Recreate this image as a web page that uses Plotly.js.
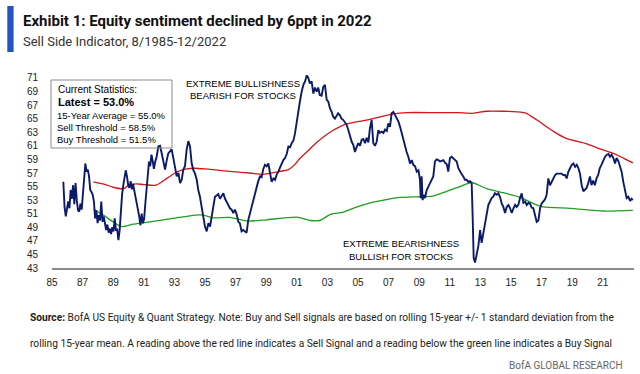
<!DOCTYPE html>
<html>
<head>
<meta charset="utf-8">
<script src="https://cdn.plot.ly/plotly-3.0.1.min.js"></script>
<style>
  html, body { margin: 0; padding: 0; background: #ffffff; }
  #chart { width: 640px; height: 374px; }
</style>
</head>
<body>
<div id="chart"></div>
<script>
// ---- Data ----
const sentimentYears = [
  1985.74,1985.82,1985.90,1985.98,1986.06,1986.14,1986.22,1986.30,1986.38,1986.46,1986.54,1986.62,1986.70,1986.78,1986.86,1986.94,
  1987.02,1987.10,1987.18,1987.26,1987.34,1987.42,1987.50,1987.58,1987.66,1987.74,1987.82,1987.90,1987.98,
  1988.06,1988.14,1988.22,1988.30,1988.38,1988.46,1988.54,1988.62,1988.70,1988.78,1988.86,1988.94,
  1989.02,1989.10,1989.18,1989.26,1989.34,1989.42,1989.50,1989.58,1989.66,1989.74,1989.82,1989.90,1989.98,
  1990.06,1990.14,1990.22,1990.30,1990.38,1990.46,1990.54,1990.62,1990.70,1990.78,1990.86,1990.94,
  1991.02,1991.10,1991.18,1991.26,1991.34,1991.42,1991.50,1991.58,1991.66,1991.74,1991.84,1991.95,
  1992.06,1992.17,1992.28,1992.39,1992.50,1992.60,1992.71,1992.82,1992.93,
  1993.04,1993.15,1993.26,1993.37,1993.48,1993.58,1993.69,1993.80,1993.91,
  1994.02,1994.13,1994.24,1994.35,1994.46,1994.56,1994.67,1994.78,1994.89,
  1995.00,1995.11,1995.22,1995.33,1995.44,1995.54,1995.65,1995.76,1995.87,1995.98,
  1996.09,1996.20,1996.31,1996.42,1996.52,1996.63,1996.74,1996.85,1996.96,
  1997.07,1997.18,1997.28,1997.39,1997.50,1997.61,1997.72,1997.83,1997.94,
  1998.05,1998.16,1998.27,1998.38,1998.48,1998.60,1998.70,1998.81,1998.92,
  1999.03,1999.14,1999.25,1999.36,1999.47,1999.58,1999.69,1999.80,1999.90,
  2000.01,2000.12,2000.23,2000.34,2000.45,2000.56,2000.67,2000.78,2000.88,2000.99,
  2001.10,2001.20,2001.32,2001.43,2001.54,2001.65,2001.75,2001.86,2001.97,
  2002.08,2002.19,2002.30,2002.40,2002.50,2002.62,2002.73,2002.84,2002.95,
  2003.06,2003.17,2003.28,2003.38,2003.49,2003.60,2003.70,2003.82,2003.92,
  2004.04,2004.15,2004.26,2004.37,2004.48,2004.59,2004.70,2004.80,2004.91,
  2005.02,2005.13,2005.24,2005.35,2005.46,2005.57,2005.68,2005.78,2005.89,
  2006.00,2006.11,2006.22,2006.33,2006.44,2006.55,2006.66,2006.77,2006.88,2006.98,
  2007.09,2007.20,2007.31,2007.42,2007.53,2007.64,2007.75,2007.86,2007.97,
  2008.08,2008.18,2008.29,2008.40,2008.51,2008.62,2008.73,2008.84,2008.95,
  2009.05,2009.10,2009.16,2009.22,2009.30,2009.38,2009.49,2009.60,2009.70,2009.81,2009.92,
  2010.03,2010.14,2010.25,2010.36,2010.47,2010.58,2010.69,2010.80,2010.90,
  2011.01,2011.12,2011.23,2011.34,2011.45,2011.56,2011.67,2011.78,2011.88,2011.99,
  2012.10,2012.21,2012.32,2012.43,2012.50,2012.56,2012.65,2012.76,2012.87,2012.98,
  2013.08,2013.19,2013.30,2013.41,2013.52,2013.63,2013.73,2013.84,2013.95,
  2014.06,2014.17,2014.28,2014.39,2014.50,2014.61,2014.72,2014.83,2014.94,
  2015.05,2015.16,2015.27,2015.37,2015.48,2015.59,2015.70,2015.81,2015.92,
  2016.03,2016.14,2016.24,2016.35,2016.46,2016.57,2016.68,2016.79,2016.90,
  2017.00,2017.12,2017.22,2017.33,2017.44,2017.55,2017.66,2017.77,2017.88,2017.99,
  2018.09,2018.20,2018.30,2018.42,2018.53,2018.64,2018.75,2018.86,2018.97,
  2019.08,2019.19,2019.30,2019.41,2019.51,2019.62,2019.73,2019.84,2019.94,
  2020.05,2020.16,2020.26,2020.37,2020.48,2020.59,2020.70,2020.80,2020.91,
  2021.04,2021.15,2021.26,2021.37,2021.47,2021.58,2021.69,2021.80,2021.90,
  2022.01,2022.12,2022.23,2022.34,2022.45,2022.56,2022.67,2022.78,2022.88,2022.96
];
const sentimentValues = [
  55.7,52.0,50.6,51.5,52.8,51.8,54.5,53.2,55.2,52.4,55.5,53.0,51.5,51.3,52.5,51.6,
  53.5,56.0,58.4,57.2,57.5,56.5,54.5,54.2,53.8,52.8,50.3,51.5,49.6,
  50.8,50.0,52.8,49.8,50.6,49.3,48.6,49.4,48.2,48.8,48.0,49.0,
  48.4,50.3,48.5,48.8,47.1,48.5,51.5,53.8,55.2,56.7,57.4,56.5,55.2,
  54.8,55.8,54.6,55.4,54.4,53.5,52.8,51.8,50.6,49.3,51.0,49.6,
  50.2,52.5,55.0,57.2,58.7,58.0,59.7,58.8,57.6,58.6,59.4,60.9,
  61.0,59.9,58.5,57.5,58.9,59.9,60.2,60.5,59.2,
  57.5,56.5,57.0,55.5,56.0,57.5,58.0,60.4,61.7,
  60.9,58.4,57.4,56.9,56.0,54.5,53.5,52.0,50.6,
  49.1,48.4,49.6,49.1,50.6,51.8,53.5,53.7,53.9,53.2,
  53.7,54.0,53.2,52.8,52.3,51.8,51.6,51.1,51.6,
  50.9,49.8,49.6,48.4,48.6,48.4,48.2,50.1,51.1,
  52.0,53.0,54.3,55.0,55.8,56.5,56.4,57.6,58.2,
  58.0,58.4,57.0,55.7,56.2,56.0,56.8,57.2,57.8,
  58.4,58.9,59.2,59.8,60.9,60.8,61.4,61.8,62.8,64.5,
  66.5,67.5,69.0,70.0,70.5,71.4,71.0,70.2,70.5,
  68.7,69.6,69.0,69.6,68.5,68.4,69.7,70.0,67.8,
  67.5,66.5,66.0,65.3,65.0,65.5,65.8,65.5,65.0,
  64.8,64.4,64.1,63.3,62.4,61.6,61.1,60.1,60.8,
  61.4,61.0,61.9,62.0,61.4,62.2,61.5,63.6,64.8,
  61.4,61.0,61.6,63.3,62.9,63.1,62.9,63.4,63.2,64.3,
  63.8,65.8,66.0,65.5,65.0,64.6,63.8,62.8,61.9,
  60.9,60.1,59.4,58.4,58.9,58.2,58.0,57.2,57.4,
  56.0,53.3,56.5,53.0,53.8,53.3,54.5,55.0,55.5,55.8,56.5,
  58.7,59.0,58.9,58.7,58.8,58.9,58.5,58.3,57.2,
  59.2,59.4,59.2,58.9,58.7,57.7,57.2,56.8,56.5,56.0,
  56.0,55.7,55.8,55.5,50.1,44.5,43.8,45.2,46.3,48.6,
  46.7,48.1,49.6,51.0,52.3,52.8,53.3,53.5,54.0,
  53.8,54.0,53.5,52.5,52.0,51.1,52.0,52.3,51.8,
  51.1,51.8,52.3,52.0,52.3,53.3,54.0,52.6,52.8,
  52.3,52.6,52.5,51.9,51.8,50.6,49.8,50.0,51.8,
  52.5,52.8,53.1,53.8,56.2,55.2,55.7,56.2,56.7,56.9,
  56.9,56.8,56.9,56.7,56.7,56.2,57.2,57.7,58.2,
  58.4,57.9,58.2,57.7,56.9,55.2,54.3,54.6,54.8,
  55.5,56.5,55.2,55.9,55.2,56.2,56.7,57.7,58.2,
  58.9,59.4,59.7,59.8,59.4,59.7,59.2,58.4,59.2,
  58.8,58.0,57.2,55.7,54.3,53.3,53.5,52.9,53.2,53.0
];

const sellYears = [1987.7,1988.5,1989.0,1989.7,1990.0,1990.5,1991.0,1991.8,1992.5,1993.2,1993.8,1994.3,1995.0,1995.7,
  1996.8,1997.9,1998.8,1999.8,2000.45,2000.9,2001.1,2001.7,2002.3,2003.1,2004.2,2005.8,2007.3,2008.2,2010.1,
  2011.5,2012.5,2013.4,2014.5,2015.4,2016.0,2016.7,2017.8,2018.6,2019.95,2021.0,2021.7,2022.35,2022.96];
const sellValues = [55.7,55.3,54.9,54.7,55.2,55.4,55.3,55.2,56.2,57.2,57.6,57.7,57.6,57.45,
  57.2,57.0,56.8,57.2,57.5,58.3,58.9,60.2,61.5,62.9,64.2,64.9,65.7,65.9,65.9,
  65.9,65.8,66.1,66.1,66.0,65.8,64.8,63.1,62.1,61.3,60.4,59.9,59.2,58.5];

const buyYears = [1987.7,1988.35,1989.0,1989.55,1990.3,1991.4,1992.9,1994.35,1994.9,1995.5,1996.6,1997.8,1999.0,
  2001.0,2001.9,2002.5,2003.2,2004.0,2004.8,2006.0,2007.1,2007.75,2009.1,2009.9,2010.8,2011.67,2012.43,
  2013.4,2014.5,2015.6,2016.46,2017.1,2018.86,2021.04,2022.96];
const buyValues = [51.7,50.8,49.8,49.1,49.45,49.8,50.3,50.8,50.8,50.4,50.45,49.9,50.1,
  50.5,50.0,50.0,50.9,51.2,51.9,52.7,53.2,53.4,53.5,53.6,54.3,55.0,55.6,
  54.7,54.1,53.4,52.5,52.0,51.8,51.4,51.5];

const tickYears = [1985,1987,1989,1991,1993,1995,1997,1999,2001,2003,2005,2007,2009,2011,2013,2015,2017,2019,2021];
const tickLabels = ["85","87","89","91","93","95","97","99","01","03","05","07","09","11","13","15","17","19","21"];
const yTicks = [43,45,47,49,51,53,55,57,59,61,63,65,67,69,71];

const statsLines = ["Current Statistics:", "Latest = 53.0%", "15-Year Average = 55.0%", "Sell Threshold = 58.5%", "Buy Threshold = 51.5%"];

// ---- Layout helpers (pixel -> paper) ----
const M = {l: 52, r: 6, t: 75, b: 106};
const PW = 640 - M.l - M.r, PH = 374 - M.t - M.b;
const px = v => (v - M.l) / PW;
const py = v => (374 - M.b - v) / PH;

const tickFont = {family: "Liberation Sans, Arial, sans-serif", size: 10, color: "#222"};
const boxFont = {family: "Liberation Sans, Arial, sans-serif", size: 9.5, color: "#000"};
const headFont = "Roboto, Liberation Sans, sans-serif";

const traces = [
  {x: sellYears, y: sellValues, type: "scatter", mode: "lines", line: {color: "#d7141a", width: 1.3, shape: "spline", smoothing: 0.6}, hoverinfo: "skip"},
  {x: buyYears, y: buyValues, type: "scatter", mode: "lines", line: {color: "#1f9e1f", width: 1.3, shape: "spline", smoothing: 0.6}, hoverinfo: "skip"},
  {x: sentimentYears, y: sentimentValues, type: "scatter", mode: "lines", line: {color: "#0b1a6b", width: 1.9}, cliponaxis: false, hoverinfo: "skip"}
];

const ann = [];
function addText(text, x, y, font, xanchor) {
  ann.push({text: text, xref: "paper", yref: "paper", x: px(x), y: py(y), xanchor: xanchor || "left", yanchor: "middle", showarrow: false, font: font, align: xanchor === "center" ? "center" : "left"});
}
addText("<b>Exhibit 1: Equity sentiment declined by 6ppt in 2022</b>", 21, 20.5, {family: headFont, size: 15, color: "#111"});
addText("Sell Side Indicator, 8/1985-12/2022", 21, 41, {family: headFont, size: 13, color: "#333"});

addText(statsLines[0], 56, 89, {family: boxFont.family, size: 10, color: "#000"});
addText("<b>" + statsLines[1] + "</b>", 56, 102.3, {family: boxFont.family, size: 11, color: "#000"});
addText(statsLines[2], 55, 115, boxFont);
addText(statsLines[3], 55, 127.3, boxFont);
addText(statsLines[4], 55, 139.3, boxFont);

addText("EXTREME BULLISHNESS", 242.5, 83.3, boxFont, "center");
addText("BEARISH FOR STOCKS", 242.5, 95.7, boxFont, "center");
addText("EXTREME BEARISHNESS", 400.8, 243.3, boxFont, "center");
addText("BULLISH FOR STOCKS", 400.8, 256.7, boxFont, "center");

addText("<b>Source:</b> BofA US Equity & Quant Strategy. Note: Buy and Sell signals are based on rolling 15-year +/- 1 standard deviation from the", 28, 317, {family: headFont, size: 10.2, color: "#222"});
addText("rolling 15-year mean. A reading above the red line indicates a Sell Signal and a reading below the green line indicates a Buy Signal", 28, 343, {family: headFont, size: 10.2, color: "#222"});
addText("BofA GLOBAL RESEARCH", 625, 365.5, {family: headFont, size: 10, color: "#666"}, "right");

const shapes = [
  {type: "rect", xref: "paper", yref: "paper", x0: px(7.3), x1: px(13.6), y0: py(52), y1: py(6), fillcolor: "#2453c8", line: {width: 0}},
  {type: "rect", xref: "paper", yref: "paper", x0: px(51), x1: px(172), y0: py(148), y1: py(80), fillcolor: "rgba(255,255,255,0)", line: {color: "#8a8a8a", width: 1}}
];

const layout = {
  width: 640, height: 374,
  margin: M,
  paper_bgcolor: "#ffffff", plot_bgcolor: "#ffffff",
  showlegend: false,
  xaxis: {
    range: [1985, 1985 + PW / 15.3], tickvals: tickYears, ticktext: tickLabels,
    showgrid: false, zeroline: false, showline: true, linecolor: "#8c8c8c", linewidth: 1.5,
    ticks: "", tickfont: tickFont, ticklabelstandoff: 4, fixedrange: true
  },
  yaxis: {
    range: [43, 43 + PH / 6.786], tickvals: yTicks, showgrid: false, zeroline: false, showline: false,
    ticks: "", tickfont: tickFont, ticklabelstandoff: 13, fixedrange: true
  },
  annotations: ann,
  shapes: shapes
};

Plotly.newPlot("chart", traces, layout, {displayModeBar: false, staticPlot: true});
</script>
</body>
</html>
